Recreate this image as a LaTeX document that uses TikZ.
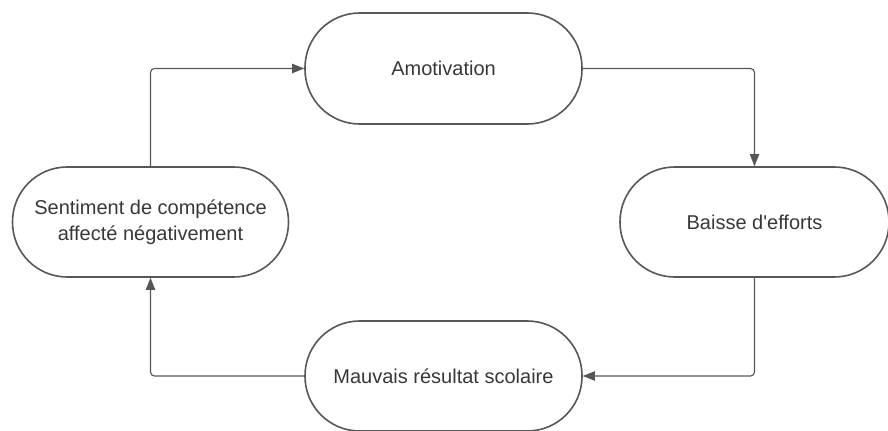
\documentclass[tikz,border=0pt]{standalone}
\usepackage{fontspec}
\setmainfont{Liberation Sans}[Ligatures=TeXOff]
\usetikzlibrary{arrows.meta}
\definecolor{edge}{HTML}{575757}
\definecolor{txt}{HTML}{383838}
\begin{document}
\begin{tikzpicture}[x=0.75pt,y=-0.75pt,
  stadium/.style={draw=edge, line width=1.2pt, fill=white, rounded corners=41pt,
    minimum height=82.5pt, inner sep=0pt, align=center, text=txt,
    font=\fontsize{15}{19.5}\selectfont},
  conn/.style={draw=edge, line width=0.85pt, rounded corners=3pt,
    -{Triangle[length=9pt,width=7pt]}}]
\useasboundingbox (0,0) rectangle (888,431);
\node[stadium, minimum width=207.75pt, minimum height=83.25pt] (amot) at (443.5,68.5) {Amotivation};
\node[stadium, minimum width=201.75pt] (baisse) at (754.5,222) {Baisse d'efforts};
\node[stadium, minimum width=207pt] (sent) at (150.5,222) {Sentiment de compétence\\affecté négativement};
\node[stadium, minimum width=207.75pt] (mauv) at (443.5,376) {Mauvais résultat scolaire};
\draw[conn] (sent.north) |- (amot.west);
\draw[conn] (amot.east) -| (baisse.north);
\draw[conn] (baisse.south) |- (mauv.east);
\draw[conn] (mauv.west) -| (sent.south);
\end{tikzpicture}
\end{document}
